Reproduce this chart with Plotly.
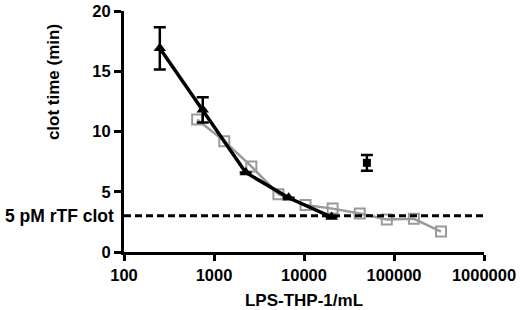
import plotly.graph_objects as go

# Data
tri_x = [250, 750, 2250, 6750, 20250]
tri_y = [16.9, 11.8, 6.6, 4.5, 2.9]
tri_err = [1.75, 1.05, 0, 0, 0]

sq_x = [650, 1300, 2600, 5200, 10400, 20800, 41600, 83200, 166400, 332800]
sq_y = [11.0, 9.2, 7.1, 4.8, 3.9, 3.6, 3.2, 2.7, 2.75, 1.7]

ctrl_x = [50000]
ctrl_y = [7.4]
ctrl_err = [0.65]

ref_y = 3.0
ref_label = "<b>5 pM rTF clot</b>"

x_ticks = [100, 1000, 10000, 100000, 1000000]
y_ticks = [0, 5, 10, 15, 20]

x_title = "<b>LPS-THP-1/mL</b>"
y_title = "<b>clot time (min)</b>"

FONT = "Arial"

fig = go.Figure()

fig.add_trace(go.Scatter(
    x=sq_x, y=sq_y, mode="lines+markers",
    line=dict(color="#9a9a9a", width=2.5),
    marker=dict(symbol="square-open", size=10, color="#9a9a9a", line=dict(width=2, color="#9a9a9a")),
    showlegend=False, cliponaxis=False, hoverinfo="skip",
))

fig.add_trace(go.Scatter(
    x=tri_x, y=tri_y, mode="lines+markers",
    line=dict(color="black", width=3.5),
    marker=dict(symbol="triangle-up", size=11, color="black"),
    error_y=dict(type="data", array=tri_err, color="black", thickness=2.5, width=6),
    showlegend=False, cliponaxis=False, hoverinfo="skip",
))

fig.add_trace(go.Scatter(
    x=ctrl_x, y=ctrl_y, mode="markers",
    marker=dict(symbol="square", size=8, color="black"),
    error_y=dict(type="data", array=ctrl_err, color="black", thickness=2.5, width=6),
    showlegend=False, cliponaxis=False, hoverinfo="skip",
))

fig.add_shape(type="line", xref="paper", yref="y", x0=0, x1=1, y0=ref_y, y1=ref_y,
              line=dict(color="black", width=3, dash="7px,4px"))

fig.add_annotation(xref="paper", yref="y", x=0, y=ref_y, text=ref_label,
                   showarrow=False, xanchor="right", yanchor="middle", xshift=-8,
                   font=dict(family=FONT, size=17.5, color="black"))

# y-axis title placed above centre, as in the reference
fig.add_annotation(xref="paper", yref="paper", x=0, y=0.705, text=y_title, textangle=-90,
                   showarrow=False, xanchor="center", yanchor="middle", xshift=-71,
                   font=dict(family=FONT, size=17, color="black"))

fig.update_xaxes(
    type="log", range=[2, 6], tickvals=x_ticks, ticktext=["<b>%d</b>" % v for v in x_ticks],
    showline=True, linecolor="black", linewidth=3, ticks="outside", ticklen=6, tickwidth=3,
    tickcolor="black", showgrid=False, zeroline=False, automargin=False,
    tickfont=dict(family=FONT, size=16.5, color="black"),
    title=dict(text=x_title, font=dict(family=FONT, size=17, color="black"), standoff=12),
)
fig.update_yaxes(
    range=[0, 20], tickvals=y_ticks, ticktext=["<b>%d</b>" % v for v in y_ticks],
    showline=True, linecolor="black", linewidth=3, ticks="outside", ticklen=7, tickwidth=3,
    tickcolor="black", showgrid=False, zeroline=False, automargin=False,
    tickfont=dict(family=FONT, size=16.5, color="black"),
)

fig.update_layout(
    width=520, height=310,
    margin=dict(l=124, r=36, t=11, b=58),
    plot_bgcolor="white", paper_bgcolor="white",
)

fig.write_html("out.html", config={"displayModeBar": False, "staticPlot": True},
               post_script="document.body.style.margin='0';")
